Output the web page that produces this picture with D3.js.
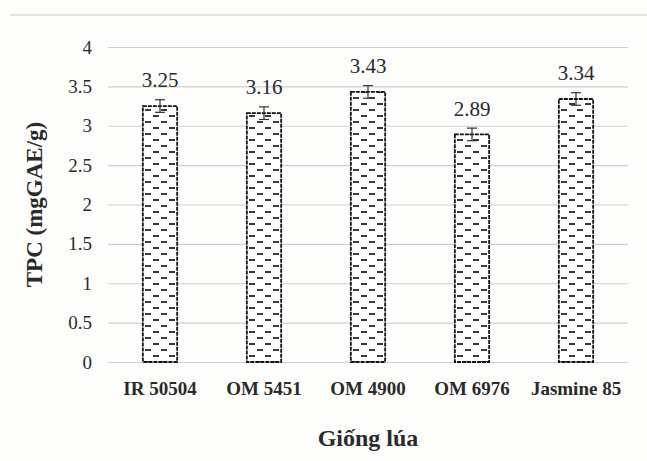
<!DOCTYPE html>
<html>
<head>
<meta charset="utf-8">
<script src="https://cdn.jsdelivr.net/npm/d3@7"></script>
<style>
  body { margin: 0; background: #fdfdfb; }
  svg text { font-family: 'Liberation Serif', 'DejaVu Serif', serif; fill: #2a2a2a; }
</style>
</head>
<body>
<div id="chart"></div>
<script>
// rice varieties and their TPC values
const varieties = ["IR 50504", "OM 5451", "OM 4900", "OM 6976", "Jasmine 85"];
const tpc = [3.25, 3.16, 3.43, 2.89, 3.34];
const tpcErr = [0.08, 0.08, 0.08, 0.08, 0.08];
const yTicks = [0, 0.5, 1, 1.5, 2, 2.5, 3, 3.5, 4];

const W = 647, H = 461;
const margin = { top: 47, right: 19, bottom: 99, left: 108 },
    width = W - margin.left - margin.right,
    height = H - margin.top - margin.bottom;
const SERIF = "'Liberation Serif', serif";

const data = varieties.map((v, i) => ({ name: v, value: tpc[i], err: tpcErr[i] }));

let svg0 = d3.select("#chart").append("svg")
    .attr("width", W).attr("height", H);

// dash pattern for bar fill
let defs = svg0.append("defs");
let pat = defs.append("pattern")
    .attr("id", "dashes")
    .attr("patternUnits", "userSpaceOnUse")
    .attr("width", 16).attr("height", 12)
    .attr("x", 0).attr("y", 0);
pat.append("rect").attr("width", 16).attr("height", 12).attr("fill", "#fff");
pat.append("line").attr("x1", 5).attr("x2", 11).attr("y1", 3).attr("y2", 3)
    .attr("stroke", "#222").attr("stroke-width", 1.8);
pat.append("line").attr("x1", 0).attr("x2", 3).attr("y1", 9).attr("y2", 9)
    .attr("stroke", "#222").attr("stroke-width", 1.8);
pat.append("line").attr("x1", 13).attr("x2", 16).attr("y1", 9).attr("y2", 9)
    .attr("stroke", "#222").attr("stroke-width", 1.8);

// faint line at the top of the image
svg0.append("line")
    .attr("x1", 10).attr("x2", W).attr("y1", 15).attr("y2", 15)
    .attr("stroke", "#c8c8c8").attr("stroke-width", 1.2);

let svg = svg0.append("g")
    .attr("transform", `translate(${margin.left},${margin.top})`);

let x = d3.scaleBand()
    .domain(varieties)
    .range([0, width])
    .paddingInner(0.67)
    .paddingOuter(0.335);
let y = d3.scaleLinear()
    .domain([0, 4])
    .range([height, 0]);

// gridlines + y labels
let yAxis = d3.axisLeft(y).tickValues(yTicks).tickFormat(d3.format("~g")).tickSize(-width).tickPadding(16);
svg.append("g")
    .attr("class", "y-axis")
    .call(yAxis)
    .attr("font-family", SERIF)
    .call(g => g.select(".domain").remove())
    .call(g => g.selectAll(".tick line").attr("stroke", "#cfcfcf").attr("stroke-width", 1.2))
    .call(g => g.selectAll(".tick text").attr("font-size", 19).attr("fill", "#2a2a2a"));

// x labels
let xAxis = d3.axisBottom(x).tickSize(0).tickPadding(20);
svg.append("g")
    .attr("transform", `translate(0,${height})`)
    .call(xAxis)
    .attr("font-family", SERIF)
    .call(g => g.select(".domain").remove())
    .call(g => g.selectAll(".tick text").attr("font-size", 19).attr("font-weight", "bold")
        .attr("fill", "#333"));

// bars
svg.selectAll(".bar")
    .data(data)
  .enter().append("rect")
    .attr("class", "bar")
    .attr("x", d => x(d.name))
    .attr("y", d => y(d.value))
    .attr("width", x.bandwidth())
    .attr("height", d => height - y(d.value))
    .attr("fill", "url(#dashes)")
    .attr("stroke", "#111")
    .attr("stroke-width", 1.8)
    .attr("stroke-dasharray", "4,1");

// error bars
let eb = svg.selectAll(".err").data(data).enter().append("g")
    .attr("stroke", "#333").attr("stroke-width", 1.2);
eb.append("line")
    .attr("x1", d => x(d.name) + x.bandwidth() / 2)
    .attr("x2", d => x(d.name) + x.bandwidth() / 2)
    .attr("y1", d => y(d.value + d.err))
    .attr("y2", d => y(d.value - d.err));
eb.append("line")
    .attr("x1", d => x(d.name) + x.bandwidth() / 2 - 5)
    .attr("x2", d => x(d.name) + x.bandwidth() / 2 + 5)
    .attr("y1", d => y(d.value + d.err))
    .attr("y2", d => y(d.value + d.err));
eb.append("line")
    .attr("x1", d => x(d.name) + x.bandwidth() / 2 - 5)
    .attr("x2", d => x(d.name) + x.bandwidth() / 2 + 5)
    .attr("y1", d => y(d.value - d.err))
    .attr("y2", d => y(d.value - d.err));

// value labels
svg.selectAll(".val")
    .data(data)
  .enter().append("text")
    .attr("x", d => x(d.name) + x.bandwidth() / 2)
    .attr("y", d => y(d.value + d.err))
    .attr("dy", "-0.6em")
    .attr("text-anchor", "middle")
    .attr("font-family", SERIF)
    .attr("font-size", 21)
    .text(d => d.value.toFixed(2));

// axis titles
svg.append("text")
    .attr("transform", `translate(${-margin.left + 42},${height / 2}) rotate(-90)`)
    .attr("text-anchor", "middle")
    .attr("font-family", SERIF)
    .attr("font-size", 23)
    .attr("font-weight", "bold")
    .text("TPC (mgGAE/g)");

svg.append("text")
    .attr("x", width / 2)
    .attr("y", height + 84)
    .attr("text-anchor", "middle")
    .attr("font-family", SERIF)
    .attr("font-size", 24)
    .attr("font-weight", "bold")
    .text("Giống lúa");
</script>
</body>
</html>
